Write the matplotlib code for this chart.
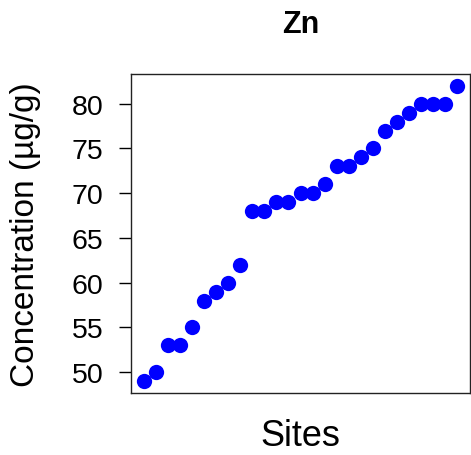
import numpy as np
import matplotlib
matplotlib.use("Agg")
from matplotlib import pyplot as plt

plt.rcParams['font.family'] = ['Liberation Sans', 'DejaVu Sans']

# Zn concentration per site, sorted ascending
zn_values = [49, 50, 53, 53, 55, 58, 59, 60, 62, 68, 68, 69, 69, 70, 70,
             71, 73, 73, 74, 75, 77, 78, 79, 80, 80, 80, 82]
site_index = np.arange(1, len(zn_values) + 1)
y_ticks = [50, 55, 60, 65, 70, 75, 80]

fig = plt.figure(figsize=(4.71, 4.56), dpi=100)
ax = fig.add_axes([131 / 471, 62 / 456, 339 / 471, 319 / 456])

ax.plot(site_index, zn_values, 'o', color='blue', markersize=11, markeredgewidth=0)

# R-style 4% padding on both axes
xr = site_index.max() - site_index.min()
yr = max(zn_values) - min(zn_values)
ax.set_xlim(site_index.min() - 0.04 * xr, site_index.max() + 0.04 * xr)
ax.set_ylim(min(zn_values) - 0.04 * yr, max(zn_values) + 0.04 * yr)

ax.set_xticks([])
ax.set_yticks(y_ticks)
ax.tick_params(axis='y', length=9, width=1, labelsize=20.5, pad=11)
for s in ax.spines.values():
    s.set_linewidth(1)
    s.set_color('#222222')

ax.set_xlabel('Sites', fontsize=26, labelpad=18)
ax.set_ylabel('Concentration (µg/g)', fontsize=24, labelpad=22)
ax.set_title('Zn', fontsize=22, fontweight='bold', pad=30)

fig.savefig('out.png', dpi=100)
